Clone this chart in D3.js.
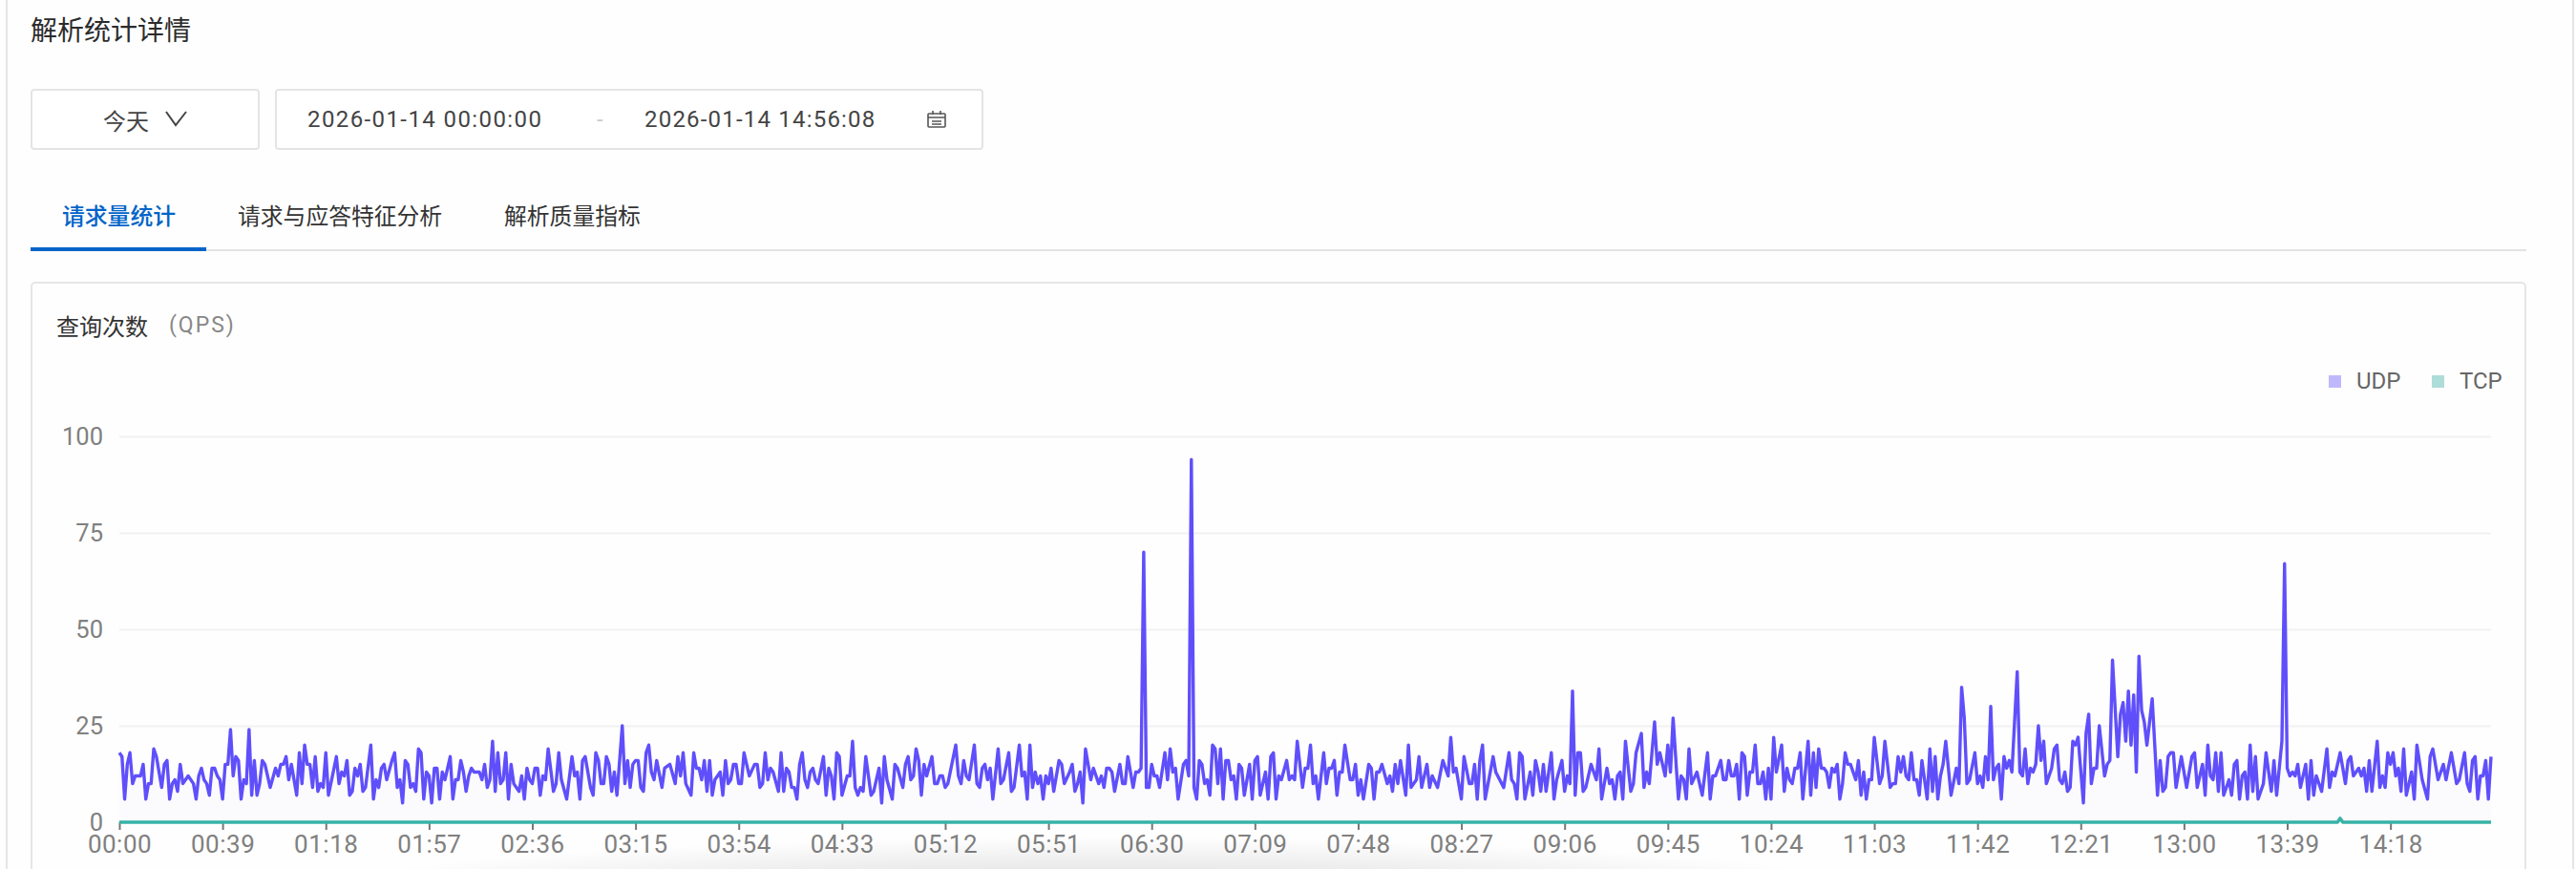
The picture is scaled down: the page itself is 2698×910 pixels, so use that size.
<!DOCTYPE html>
<html><head><meta charset="utf-8">
<script src="https://cdn.jsdelivr.net/npm/d3@7"></script>
<style>
html,body{margin:0;padding:0;background:#fff;overflow:hidden}
text{font-family:"Noto Sans CJK SC","Noto Sans",sans-serif}
.num{font-family:Roboto,"Noto Sans",sans-serif}
</style></head><body><div id="c"></div>
<script>
const xTickLabels=["00:00","00:39","01:18","01:57","02:36","03:15","03:54","04:33","05:12","05:51","06:30","07:09","07:48","08:27","09:06","09:45","10:24","11:03","11:42","12:21","13:00","13:39","14:18"];
const yTicks=[0,25,50,75,100];
const seriesNames=["UDP","TCP"];
const tcpPoints=[[0,0],[838,0],[839,1],[840,0],[896,0]];
const udpPoints=[[0,18],[1,17],[2,6],[3,15],[4,18],[5,10],[6,12],[8,12],[9,15],[10,6],[11,10],[12,10],[13,19],[14,17],[16,9],[17,15],[18,16],[19,6],[20,10],[21,11],[22,8],[23,15],[24,10],[26,12],[28,10],[29,6],[30,12],[31,14],[32,11],[33,10],[34,7],[35,14],[36,14],[37,12],[38,11],[39,6],[40,15],[41,15],[42,24],[43,12],[44,17],[45,16],[46,6],[47,11],[48,10],[49,24],[50,7],[51,16],[52,7],[53,10],[54,16],[55,15],[57,9],[59,14],[60,12],[61,15],[62,15],[63,17],[64,11],[65,15],[67,7],[68,18],[69,10],[70,20],[71,15],[72,15],[73,9],[74,17],[75,8],[76,10],[77,9],[78,18],[79,7],[82,17],[83,10],[84,13],[85,12],[86,16],[87,7],[88,8],[89,14],[90,12],[91,15],[92,8],[93,9],[95,20],[96,6],[97,11],[98,9],[99,14],[100,15],[101,11],[103,16],[104,18],[105,9],[106,11],[107,5],[108,16],[109,15],[110,9],[111,10],[112,8],[113,19],[114,18],[115,6],[116,13],[117,12],[118,5],[119,14],[120,14],[121,6],[122,13],[123,11],[125,17],[126,6],[127,11],[128,11],
[129,16],[130,13],[131,8],[132,12],[133,14],[134,13],[136,13],[137,11],[138,15],[139,9],[140,11],[141,21],[142,8],[143,18],[144,10],[145,11],[146,18],[147,6],[148,15],[149,10],[151,8],[152,12],[153,6],[154,14],[155,11],[156,10],[157,14],[158,14],[159,7],[160,12],[161,11],[162,19],[164,8],[165,10],[166,18],[167,11],[169,6],[171,17],[172,12],[173,13],[174,6],[175,16],[176,17],[178,9],[179,7],[180,18],[181,16],[182,10],[183,10],[184,17],[185,15],[186,8],[187,13],[188,7],[190,25],[191,10],[192,16],[193,9],[194,15],[195,16],[196,16],[197,9],[198,8],[199,18],[200,20],[201,13],[202,11],[203,16],[205,9],[206,14],[208,15],[210,10],[211,17],[212,12],[213,18],[214,10],[216,7],[217,18],[218,14],[219,14],[220,11],[221,16],[222,8],[223,16],[224,7],[225,11],[227,13],[228,7],[229,16],[230,10],[231,11],[232,15],[233,15],[234,10],[235,10],[236,18],[238,12],[240,15],[241,15],[242,9],[243,10],[244,18],[245,11],[246,14],[247,13],[249,8],[250,18],[251,8],[252,14],[253,13],[254,9],[255,9],[256,6],
[257,15],[258,18],[259,11],[260,9],[261,13],[262,14],[263,11],[264,10],[266,17],[267,7],[268,14],[269,12],[270,6],[271,18],[272,17],[273,7],[275,12],[276,12],[277,21],[278,9],[279,7],[280,9],[281,8],[282,17],[284,7],[285,8],[287,14],[288,5],[289,17],[290,11],[292,6],[293,15],[294,14],[296,9],[297,15],[298,17],[299,11],[300,12],[301,19],[302,16],[303,7],[304,15],[305,12],[307,17],[308,10],[309,10],[310,12],[311,12],[312,9],[313,10],[316,20],[317,12],[318,10],[319,16],[320,12],[321,11],[323,20],[324,10],[325,9],[326,14],[327,15],[328,11],[329,14],[330,6],[332,19],[333,10],[334,11],[336,18],[337,8],[338,9],[340,20],[341,12],[342,13],[343,6],[344,20],[345,9],[346,13],[347,10],[348,12],[349,6],[350,12],[351,10],[352,14],[353,8],[355,16],[356,15],[357,10],[359,13],[360,15],[361,8],[362,10],[363,13],[364,5],[365,19],[367,11],[368,14],[370,10],[371,12],[372,9],[373,14],[374,14],[375,13],[376,8],[378,15],[379,10],[380,10],[381,17],[383,9],[384,13],[385,13],[386,14],
[387,70],[388,9],[389,9],[390,15],[391,12],[392,12],[393,9],[395,18],[396,11],[397,19],[398,13],[399,14],[400,6],[402,15],[403,16],[404,12],[405,94],[406,9],[407,6],[408,16],[409,15],[410,10],[411,11],[412,7],[413,20],[414,19],[415,10],[416,19],[417,6],[418,16],[419,16],[420,11],[421,12],[422,6],[423,15],[424,14],[425,7],[427,15],[428,6],[429,16],[430,17],[431,7],[433,13],[434,6],[435,17],[436,18],[437,6],[438,12],[439,11],[441,16],[442,11],[443,12],[444,11],[445,21],[447,9],[448,14],[449,14],[450,20],[451,10],[452,12],[453,6],[455,18],[456,10],[457,14],[458,14],[459,16],[460,7],[461,13],[462,13],[463,20],[465,11],[466,11],[467,15],[468,7],[469,11],[470,6],[472,15],[473,14],[474,6],[475,13],[476,13],[477,15],[479,10],[480,12],[481,8],[482,15],[483,10],[484,16],[486,7],[487,20],[488,9],[490,11],[491,17],[492,9],[494,15],[495,9],[496,12],[498,9],[500,16],[502,12],[503,22],[504,13],[505,14],[507,6],[508,17],[510,10],[511,10],
[512,15],[513,6],[514,16],[515,20],[516,6],[519,17],[520,13],[523,9],[525,18],[526,11],[527,10],[528,6],[529,18],[530,17],[531,6],[533,13],[534,7],[535,16],[536,13],[537,8],[538,15],[539,8],[541,18],[542,6],[543,11],[545,16],[546,8],[547,12],[548,10],[549,34],[550,7],[551,18],[552,18],[553,8],[554,9],[556,15],[558,11],[559,19],[560,6],[562,14],[563,10],[564,11],[565,6],[566,12],[567,13],[568,6],[569,21],[571,8],[572,10],[573,18],[575,23],[576,9],[577,13],[578,10],[580,26],[581,15],[582,18],[584,12],[585,20],[586,13],[587,27],[589,6],[590,12],[591,11],[592,6],[593,19],[594,10],[596,13],[598,7],[600,18],[601,6],[602,12],[603,12],[605,16],[606,11],[607,11],[608,16],[609,12],[610,12],[611,15],[612,6],[613,18],[614,17],[615,7],[616,13],[617,13],[618,20],[619,10],[620,10],[621,13],[622,6],[623,14],[624,6],[625,22],[626,13],[628,20],[629,8],[630,14],[631,11],[632,10],[633,14],[634,14],[635,18],[636,6],[638,21],[639,7],
[640,18],[641,9],[642,19],[643,14],[644,14],[645,13],[646,9],[647,14],[648,13],[649,15],[650,6],[651,10],[652,18],[653,15],[654,15],[656,11],[657,16],[658,7],[659,13],[660,6],[661,11],[662,11],[663,22],[665,10],[666,12],[667,21],[669,9],[670,10],[671,10],[672,17],[673,13],[674,17],[675,12],[676,11],[677,18],[678,11],[679,11],[680,7],[681,16],[683,6],[684,19],[685,8],[686,17],[687,6],[688,12],[689,15],[690,21],[692,7],[694,14],[695,10],[696,35],[697,27],[698,10],[699,11],[701,18],[702,10],[703,12],[704,9],[705,17],[706,11],[707,30],[708,11],[709,14],[710,15],[711,6],[712,17],[713,14],[714,16],[715,13],[717,39],[718,13],[719,12],[720,19],[721,10],[722,14],[723,13],[724,15],[725,25],[726,16],[727,21],[728,10],[730,14],[731,19],[732,20],[733,11],[734,10],[735,13],[736,8],[737,9],[738,21],[739,20],[740,22],[742,5],[743,23],[744,28],[745,10],[746,14],[747,14],[748,25],[750,12],[751,15],[752,16],[753,42],[755,17],[756,28],[757,31],[758,21],[759,34],[760,20],[761,33],[762,13],[763,43],[764,29],[765,26],[766,20],[768,32],
[770,7],[771,16],[772,8],[773,9],[774,17],[775,18],[776,18],[777,9],[779,17],[781,9],[783,17],[784,18],[785,9],[787,15],[788,7],[789,20],[790,12],[791,11],[792,18],[793,8],[794,18],[795,7],[797,11],[798,7],[799,15],[800,16],[801,6],[802,12],[803,13],[804,6],[805,20],[806,8],[807,17],[808,6],[810,10],[811,18],[813,8],[814,16],[815,7],[817,21],[818,67],[819,14],[820,12],[821,13],[822,12],[823,15],[824,9],[826,15],[827,6],[828,16],[829,7],[830,12],[832,8],[834,19],[835,9],[836,13],[837,12],[839,18],[841,10],[842,16],[843,17],[844,12],[846,14],[847,12],[848,14],[849,8],[850,16],[851,8],[853,21],[854,9],[855,12],[856,9],[857,18],[858,15],[859,18],[860,12],[861,14],[862,8],[863,19],[864,7],[866,13],[867,6],[868,20],[870,11],[872,6],[873,17],[874,19],[876,11],[878,15],[879,11],[881,18],[883,10],[884,11],[886,18],[887,10],[888,8],[889,16],[890,17],[891,6],[892,12],[893,12],[894,16],[895,6],[896,17]];

const W=2698,H=910;
const svg=d3.select("#c").append("svg").attr("width",W).attr("height",H).style("display","block");
const defs=svg.append("defs");
const rg=defs.append("radialGradient").attr("id","sh").attr("cx","50%").attr("cy","50%").attr("r","50%");
rg.append("stop").attr("offset","0%").attr("stop-color","#000").attr("stop-opacity",.14);
rg.append("stop").attr("offset","60%").attr("stop-color","#000").attr("stop-opacity",.06);
rg.append("stop").attr("offset","100%").attr("stop-color","#000").attr("stop-opacity",0);

svg.append("rect").attr("width",W).attr("height",H).attr("fill","#fefefe");
svg.append("path").attr("d",`M7 0V${H}M2695 0V${H}`).attr("stroke","#e6e6e6").attr("stroke-width",2).attr("fill","none");
const T=(x,y,s,o={})=>svg.append("text").attr("x",x).attr("y",y).attr("fill",o.c||"#333").attr("font-size",o.f||24).attr("dominant-baseline","central").attr("text-anchor",o.a||"start").attr("class",o.k||null).attr("letter-spacing",o.ls||null).attr("font-weight",o.w||null).text(s);
T(32,30,"解析统计详情",{f:28,c:"#2b2b2b"});
const box=(x,y,w,h)=>svg.append("rect").attr("x",x).attr("y",y).attr("width",w).attr("height",h).attr("rx",3).attr("fill","#fff").attr("stroke","#e4e4e4").attr("stroke-width",2);
box(33,94,238,62);box(289,94,740,62);
T(108,125,"今天",{f:24,c:"#444"});
svg.append("path").attr("d","M174 117L184 131L195 117").attr("fill","none").attr("stroke","#444").attr("stroke-width",2);
T(322,125,"2026-01-14 00:00:00",{k:"num",f:24,c:"#444",ls:"1.4"});
T(625,125,"-",{k:"num",f:24,c:"#ccc"});
T(675,125,"2026-01-14 14:56:08",{k:"num",f:24,c:"#444",ls:"1.2"});
const cal=svg.append("g").attr("fill","none").attr("stroke","#555").attr("stroke-width",1.6);
cal.append("rect").attr("x",972).attr("y",119).attr("width",18).attr("height",14).attr("rx",1);
cal.append("path").attr("d","M972 123H990M977 116V120M985 116V120M976 127H986M976 130H986");
T(65,224,"请求量统计",{f:23.8,c:"#0064c8",w:500});
T(249,224,"请求与应答特征分析",{f:23.8,c:"#333"});
T(528,224,"解析质量指标",{f:23.8,c:"#333"});
svg.append("line").attr("x1",32).attr("x2",2646).attr("y1",262).attr("y2",262).attr("stroke","#e3e3e3").attr("stroke-width",2);
svg.append("rect").attr("x",32).attr("y",259).attr("width",184).attr("height",4).attr("fill","#0064c8");
svg.append("rect").attr("x",33).attr("y",296).attr("width",2612).attr("height",700).attr("rx",4).attr("fill","#fefefe").attr("stroke","#e6e6e6").attr("stroke-width",2);
T(59,340,"查询次数",{f:24,c:"#333"});
T(177,340,"(QPS)",{k:"num",f:23,c:"#888",ls:"2"});
const colors=["#5f4ffb","#38b2a7"],legendFill=["#c0b8fd","#aedcd8"];
const legX=[2439,2547];
seriesNames.forEach((n,i)=>{
 svg.append("rect").attr("x",legX[i]).attr("y",393).attr("width",13).attr("height",13).attr("fill",legendFill[i]);
 T(legX[i]+29,399,n,{k:"num",f:24,c:"#666"});
});
const x=d3.scaleLinear().domain([0,896]).range([125,2609]);
const y=d3.scaleLinear().domain([0,100]).range([861,457]);
const yAxis=d3.axisLeft(y).tickValues(yTicks).tickSize(0).tickPadding(17);
const gy=svg.append("g").attr("transform","translate(125,0)").call(yAxis);
gy.select(".domain").remove();
gy.selectAll("text").attr("class","num").attr("font-size",25.5).attr("fill","#808080").style("font-family","Roboto");
gy.selectAll(".tick").filter(d=>d>0).append("line").attr("x1",0).attr("x2",2484).attr("stroke","#f1f1f1").attr("stroke-width",2);
svg.append("path").datum(udpPoints).attr("fill","#5f4ffb").attr("fill-opacity",.018)
 .attr("d",d3.area().x(d=>x(d[0])).y0(y(0)).y1(d=>y(d[1])));
const xAxis=d3.axisBottom(x).tickValues(xTickLabels.map((_,i)=>i*39)).tickFormat((_,i)=>xTickLabels[i]).tickSize(8).tickPadding(6).tickSizeOuter(0);
const gx=svg.append("g").attr("transform","translate(0,861)").call(xAxis);
gx.select(".domain").remove();
gx.selectAll("line").attr("stroke","#777").attr("stroke-width",2);
gx.selectAll("text").attr("font-size",26).attr("letter-spacing",0.5).attr("fill","#808080").style("font-family","Roboto");
const line=d3.line().x(d=>x(d[0])).y(d=>y(d[1])).curve(d3.curveLinear);
svg.append("path").datum(udpPoints).attr("d",line).attr("fill","none").attr("stroke",colors[0]).attr("stroke-width",3.4).attr("stroke-linejoin","round");
svg.append("path").datum(tcpPoints).attr("d",line).attr("fill","none").attr("stroke",colors[1]).attr("stroke-width",3.5).attr("stroke-linejoin","round");
svg.append("ellipse").attr("cx",1150).attr("cy",935).attr("rx",820).attr("ry",58).attr("fill","url(#sh)").style("pointer-events","none");
</script></body></html>
